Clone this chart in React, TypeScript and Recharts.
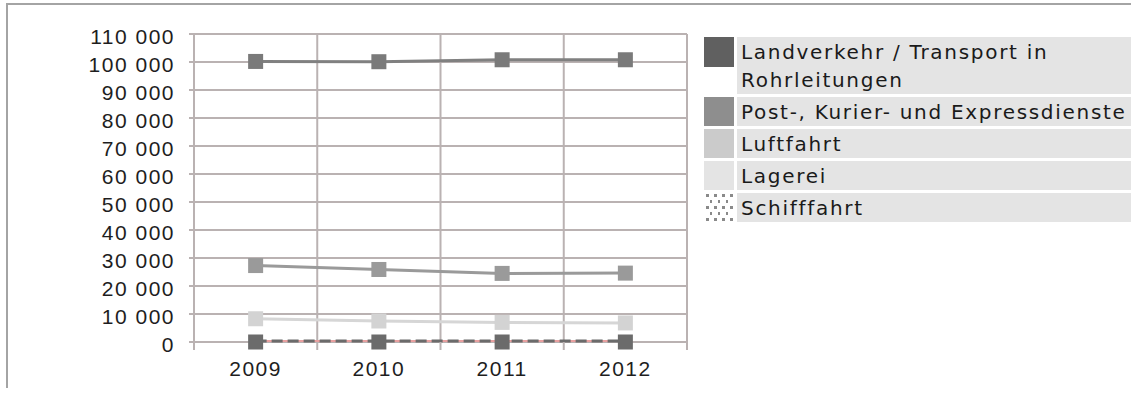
import React from 'react';
import { LineChart, Line, XAxis, YAxis, CartesianGrid } from 'recharts';

// values
const years = ['2009', '2010', '2011', '2012'];
const landverkehr = [100200, 100100, 100800, 100800];
const post = [27300, 25900, 24500, 24600];
const luftfahrt = [8300, 7500, 7000, 6800];
const lagerei = [0, 0, 0, 0];
const schifffahrt = [400, 400, 400, 400];
const yTicks = [0, 10000, 20000, 30000, 40000, 50000, 60000, 70000, 80000, 90000, 100000, 110000];

const legendNames = [
  'Landverkehr / Transport in Rohrleitungen',
  'Post-, Kurier- und Expressdienste',
  'Luftfahrt',
  'Lagerei',
  'Schifffahrt',
];
const legendColors = ['#606060', '#8e8e8e', '#cbcbcb', '#e4e4e4', 'dots'];

const gridColor = '#bab2b2';
const axisFont = '"Liberation Sans", Arial, sans-serif';

const data = years.map((year, i) => ({
  idx: i,
  year,
  landverkehr: landverkehr[i],
  post: post[i],
  luftfahrt: luftfahrt[i],
  lagerei: lagerei[i],
  schifffahrt: schifffahrt[i],
}));

// grid lines sit between the years, labels in the middle
const boundaries = years.map((_, i) => i - 0.5).concat(years.length - 0.5);
const centers = years.map((_, i) => i);

const fmt = (v: number) => String(v).replace(/\B(?=(\d{3})+(?!\d))/g, ' ');

const squareDot = (color: string) => (props: any) => {
  const { cx, cy, index } = props;
  if (cx == null || cy == null) return <g key={index} />;
  return <rect key={index} x={cx - 7.5} y={cy - 7.5} width={15} height={15} fill={color} />;
};

const YTick = (props: any) => {
  const { x, y, payload } = props;
  return (
    <text x={x} y={y} dy={10} textAnchor="end" fill="#1e1e1e" fontSize={21} fontFamily={axisFont} letterSpacing={1.5}>
      {fmt(payload.value)}
    </text>
  );
};

const XTick = (props: any) => {
  const { x, y, payload } = props;
  return (
    <text x={x} y={y} dy={17} textAnchor="middle" fill="#1e1e1e" fontSize={21} fontFamily={axisFont} letterSpacing={1.5}>
      {years[payload.value]}
    </text>
  );
};

function Swatch({ color, tall }: { color: string; tall: number }) {
  if (color === 'dots') {
    return (
      <svg width={30} height={tall} style={{ display: 'block' }}>
        <defs>
          <pattern id="dotPat" width={8} height={12} patternUnits="userSpaceOnUse">
            <rect x={2} y={1} width={3} height={3} fill="#8a8a8a" />
            <rect x={6} y={7} width={3} height={3} fill="#8a8a8a" />
          </pattern>
        </defs>
        <rect width={30} height={tall} fill="url(#dotPat)" />
      </svg>
    );
  }
  return <div style={{ width: 30, height: tall, background: color }} />;
}

function Legend() {
  return (
    <div style={{ position: 'absolute', left: 704, top: 37 }}>
      {legendNames.map((name, i) => (
        <div key={name} style={{ display: 'flex', marginBottom: 3 }}>
          <div style={{ width: 30, marginRight: 3 }}>
            <Swatch color={legendColors[i]} tall={i === 0 ? 30 : 29} />
          </div>
          <div
            style={{
              width: 394,
              boxSizing: 'border-box',
              background: '#e4e4e4',
              padding: '1px 4px 0 4px',
              minHeight: 29,
              fontFamily: '"DejaVu Sans", Verdana, sans-serif',
              fontSize: 20,
              letterSpacing: 1.7,
              lineHeight: '28px',
              color: '#1a1a1a',
            }}
          >
            {name}
          </div>
        </div>
      ))}
    </div>
  );
}

export default function App() {
  return (
    <div style={{ position: 'relative', width: 1131, height: 388, marginLeft: -8, marginTop: -8, background: '#fff' }}>
      <div style={{ position: 'absolute', left: 0, top: 0 }}>
        <LineChart width={700} height={396} data={data} margin={{ top: 34, right: 13, bottom: 13, left: 0 }}>
          <CartesianGrid xAxisId="grid" stroke={gridColor} strokeWidth={2} />
          <XAxis
            xAxisId="grid"
            dataKey="idx"
            type="number"
            domain={[-0.5, 3.5]}
            ticks={boundaries}
            tickFormatter={() => ''}
            tickSize={8}
            height={1}
            axisLine={false}
            tickLine={{ stroke: gridColor, strokeWidth: 2 }}
          />
          <XAxis
            xAxisId="label"
            dataKey="idx"
            type="number"
            domain={[-0.5, 3.5]}
            ticks={centers}
            tick={<XTick />}
            tickSize={0}
            tickMargin={16}
            height={40}
            axisLine={false}
            tickLine={false}
          />
          <YAxis
            domain={[0, 110000]}
            ticks={yTicks}
            width={194}
            tickSize={5}
            tickMargin={14}
            interval={0}
            tick={<YTick />}
            axisLine={{ stroke: gridColor, strokeWidth: 2 }}
            tickLine={{ stroke: gridColor, strokeWidth: 2 }}
          />
          <Line xAxisId="grid" dataKey="landverkehr" stroke="#808080" strokeWidth={3} dot={squareDot('#7a7a7a')} isAnimationActive={false} />
          <Line xAxisId="grid" dataKey="post" stroke="#9a9a9a" strokeWidth={3} dot={squareDot('#9a9a9a')} isAnimationActive={false} />
          <Line xAxisId="grid" dataKey="luftfahrt" stroke="#d6d6d6" strokeWidth={3} dot={squareDot('#d3d3d3')} isAnimationActive={false} />
          <Line xAxisId="grid" dataKey="schifffahrt" stroke="#e8a0a0" strokeWidth={2} dot={false} legendType="none" isAnimationActive={false} />
          <Line xAxisId="grid" dataKey="schifffahrt" stroke="#6b6b6b" strokeWidth={3} strokeDasharray="11 5" dot={false} isAnimationActive={false} />
          <Line xAxisId="grid" dataKey="lagerei" stroke="none" dot={squareDot('#6b6b6b')} isAnimationActive={false} />
        </LineChart>
      </div>

      {/* frame of the surrounding page box (fixed so the root's clipping doesn't cut it) */}
      <div
        style={{
          position: 'fixed',
          left: 6,
          top: 3,
          width: 1125,
          height: 385,
          boxSizing: 'border-box',
          borderTop: '2px solid #a4a4a4',
          borderLeft: '2px solid #a4a4a4',
          pointerEvents: 'none',
          zIndex: 2,
        }}
      />

      <Legend />
    </div>
  );
}
